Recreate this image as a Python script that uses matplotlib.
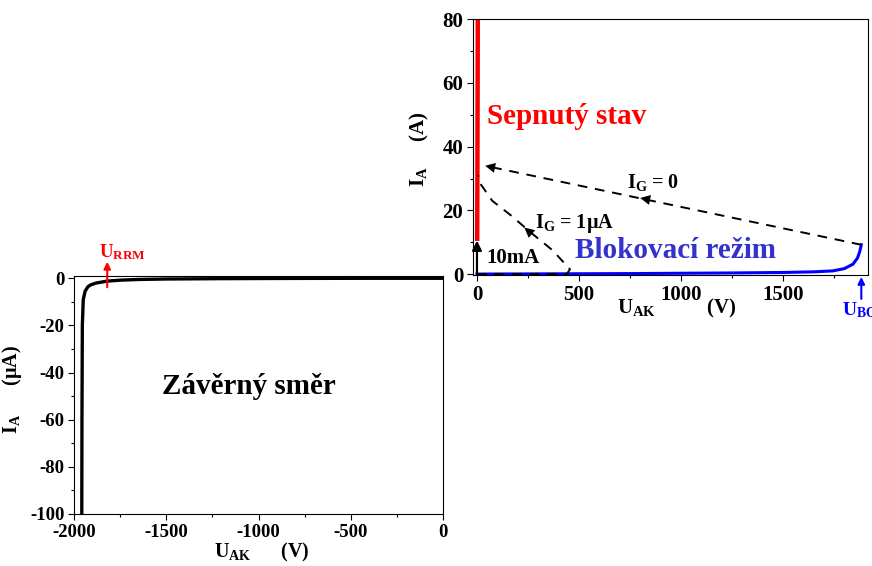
import numpy as np
import matplotlib
matplotlib.use('Agg')
import matplotlib.pyplot as plt
from matplotlib.ticker import MultipleLocator

plt.rcParams['font.family'] = 'Liberation Serif'
plt.rcParams['font.weight'] = 'bold'
plt.rcParams['axes.labelweight'] = 'bold'
plt.rcParams['mathtext.fontset'] = 'custom'
plt.rcParams['mathtext.rm'] = 'Liberation Serif:bold'
plt.rcParams['mathtext.it'] = 'Liberation Serif:bold'
plt.rcParams['mathtext.bf'] = 'Liberation Serif:bold'
plt.rcParams['axes.unicode_minus'] = False

# reverse direction (left panel), U in V, I in uA
rev_u = [-1958, -1957, -1955, -1950, -1940, -1925, -1910, -1880, -1820, -1750, -1650, -1500, -1200, -800, -400, 0]
rev_i = [-100, -60, -20, -9, -5.5, -3.6, -2.8, -2.0, -1.2, -0.8, -0.5, -0.3, -0.15, -0.05, 0, 0]
u_rrm = -1820

# forward direction (right panel), U in V, I in A
block_u = [0, 250, 500, 750, 1000, 1250, 1500, 1650, 1745, 1800, 1843, 1865, 1876, 1884]
block_i = [0, 0.05, 0.1, 0.15, 0.25, 0.35, 0.5, 0.7, 1.0, 1.7, 3.1, 5.0, 7.0, 9.2]
on_u = [1, 2, 3, 4]
on_i = [10.4, 30, 55, 80]
ig0_u = [1884, 40]
ig0_i = [9.2, 34]
ig1_u = [0, 440, 456, 370, 255, 175, 75, 15, 5]
ig1_i = [0, 0, 1.5, 7.5, 13.5, 18, 23, 28.5, 31]
gate_u = [0, 0]
gate_i = [0, 10.5]
u_bo = 1884


def bold_ticks(ax):
    for lab in ax.get_xticklabels() + ax.get_yticklabels():
        lab.set_fontweight('bold')


fig = plt.figure(figsize=(8.72, 5.66), dpi=100)

# ---- reverse blocking characteristic ----
ax1 = fig.add_axes([0.0849, 0.0919, 0.4232, 0.4210])
ax1.plot(rev_u, rev_i, color='black', lw=2.4, solid_capstyle='butt')
ax1.set_xlim(-2000, 0)
ax1.set_ylim(-100, 1.1)
ax1.xaxis.set_major_locator(MultipleLocator(500))
ax1.xaxis.set_minor_locator(MultipleLocator(250))
ax1.yaxis.set_major_locator(MultipleLocator(20))
ax1.yaxis.set_minor_locator(MultipleLocator(10))
ax1.tick_params(which='major', length=4, width=0.8, labelsize=13.5, pad=3)
ax1.tick_params(which='minor', length=2.5, width=0.8)
bold_ticks(ax1)
ax1.set_xlabel(r'U$_\mathrm{AK}$      (V)', fontsize=14.5)
ax1.xaxis.set_label_coords(0.509, -0.115)
ax1.set_ylabel(r'I$_\mathrm{A}$      ($\mu$A)', fontsize=14.5)
ax1.yaxis.set_label_coords(-0.135, 0.525)
ax1.text(-1050, -46, 'Závěrný směr', fontsize=21, ha='center', va='center')
ax1.annotate('', xy=(u_rrm, 7.0), xytext=(u_rrm, -3.8), annotation_clip=False,
             arrowprops=dict(arrowstyle='-|>', color='red', lw=1.5, mutation_scale=10,
                             shrinkA=0, shrinkB=0))
ax1.text(-1862, 9.0, r'U$_\mathrm{RRM}$', color='red', fontsize=13.5, ha='left',
         va='baseline', clip_on=False)

# ---- forward characteristic ----
ax2 = fig.add_axes([0.5424, 0.5141, 0.4533, 0.4518])
ax2.plot(block_u, block_i, color='#0000ff', lw=2.2)
ax2.plot(on_u, on_i, color='#ff0000', lw=3.2, solid_capstyle='butt')
ax2.plot(ig0_u, ig0_i, color='black', lw=1.4, ls=(0, (5, 4)))
ax2.plot(ig1_u, ig1_i, color='black', lw=1.4, ls=(0, (5, 4)))
ax2.set_xlim(-19.6, 1918)
ax2.set_ylim(-0.3, 80)
ax2.xaxis.set_major_locator(MultipleLocator(500))
ax2.xaxis.set_minor_locator(MultipleLocator(250))
ax2.yaxis.set_major_locator(MultipleLocator(20))
ax2.yaxis.set_minor_locator(MultipleLocator(10))
ax2.tick_params(which='major', length=4, width=0.8, labelsize=15, pad=3)
ax2.tick_params(which='minor', length=2.5, width=0.8)
bold_ticks(ax2)
ax2.set_xlabel(r'U$_\mathrm{AK}$          (V)', fontsize=15)
ax2.xaxis.set_label_coords(0.516, -0.085)
ax2.set_ylabel(r'I$_\mathrm{A}$     (A)', fontsize=15)
ax2.yaxis.set_label_coords(-0.105, 0.49)

head = dict(arrowstyle='-|>', color='black', lw=0, mutation_scale=18, shrinkA=0, shrinkB=0)
# direction arrows on the dashed switching paths
ax2.annotate('', xy=(ig0_u[1], ig0_i[1]), xytext=(ig0_u[1] + 60, ig0_i[1] - 0.8), arrowprops=head)
ax2.annotate('', xy=(800, 23.9), xytext=(870, 23.0), arrowprops=head)
ax2.annotate('', xy=(232, 14.6), xytext=(282, 11.9), arrowprops=head)
# gate current step
ax2.annotate('', xy=(gate_u[1], gate_i[1]), xytext=(gate_u[0], gate_i[0]),
             arrowprops=dict(arrowstyle='-|>', color='black', lw=1.6, mutation_scale=14,
                             shrinkA=0, shrinkB=0))

ax2.text(50, 47, 'Sepnutý stav', color='#ff0000', fontsize=21, va='baseline')
ax2.text(480, 5.0, 'Blokovací režim', color='#3333cc', fontsize=21, va='baseline')
ax2.text(734, 27.0, r'I$_\mathrm{G}$ = 0', fontsize=14.5, va='baseline')
ax2.text(284, 14.5, r'I$_\mathrm{G}$ = 1$\mu$A', fontsize=14.5, va='baseline')
ax2.text(44, 3.6, '10mA', fontsize=15, va='baseline')
ax2.annotate('', xy=(u_bo, -0.9), xytext=(u_bo, -7.8), annotation_clip=False,
             arrowprops=dict(arrowstyle='-|>', color='#0000ff', lw=1.5, mutation_scale=10,
                             shrinkA=0, shrinkB=0))
ax2.text(1788, -12.8, r'U$_\mathrm{BO}$', color='#0000ff', fontsize=14, ha='left',
         va='baseline', clip_on=False)

fig.savefig('out.png', dpi=100)
